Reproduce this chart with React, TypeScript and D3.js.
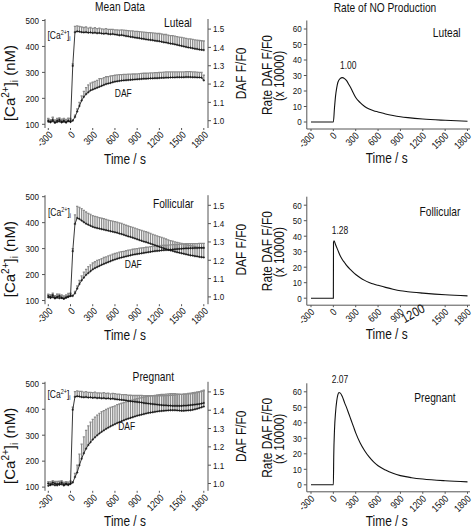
import React from "react";
import * as d3 from "d3";

// sampling grid of the mean-data traces (s)
const TIMES = d3.range(-300, 1801, 30);
const X_TICKS = [-300, 0, 300, 600, 900, 1200, 1500, 1800];
const CA_TICKS = [100, 200, 300, 400, 500];
const DAF_TICKS = [1.0, 1.1, 1.2, 1.3, 1.4, 1.5];
const RATE_TICKS = [0, 10, 20, 30, 40, 50, 60];

const lutealCa = [110,108,112,106,109,111,107,110,108,112,109,
  325,455,458,457,455,454,455,453,454,452,
  453,451,452,450,449,450,448,447,448,446,
  445,443,444,442,440,439,437,436,434,433,
  432,430,429,427,426,425,424,422,421,420,
  418,416,415,413,411,410,408,406,404,402,
  400,398,396,395,393,391,390,388,387,386];
const lutealCaErr = [12,10,14,11,13,12,10,13,11,12,14,
  8,22,21,20,20,19,20,18,19,18,
  19,18,19,18,18,19,18,19,18,18,
  19,20,20,21,22,22,23,24,24,25,
  25,26,26,27,27,28,28,29,29,30,
  30,30,31,31,31,32,32,32,32,33,
  33,33,33,34,34,34,34,35,35,35];
const lutealDaf = [1.0,0.995,1.005,0.99,1.0,1.005,0.995,1.0,0.99,1.0,0.995,
  1.0,1.02,1.05,1.08,1.11,1.13,1.145,1.155,1.165,1.17,
  1.175,1.18,1.185,1.19,1.195,1.2,1.203,1.206,1.21,1.213,
  1.215,1.217,1.219,1.22,1.221,1.222,1.223,1.224,1.225,1.226,
  1.227,1.228,1.229,1.229,1.23,1.231,1.231,1.232,1.232,1.233,
  1.234,1.234,1.235,1.235,1.236,1.236,1.236,1.237,1.237,1.237,
  1.237,1.238,1.238,1.238,1.237,1.237,1.236,1.236,1.235,1.22];
const lutealDafErr = [0.012,0.01,0.015,0.01,0.012,0.01,0.013,0.01,0.012,0.011,0.01,
  0.005,0.01,0.015,0.02,0.025,0.03,0.035,0.04,0.04,0.04,
  0.04,0.04,0.045,0.04,0.04,0.04,0.038,0.038,0.036,0.035,
  0.035,0.034,0.033,0.033,0.032,0.032,0.031,0.031,0.03,0.03,
  0.03,0.03,0.03,0.03,0.03,0.03,0.03,0.03,0.03,0.03,
  0.03,0.031,0.031,0.031,0.031,0.031,0.03,0.03,0.03,0.03,
  0.03,0.03,0.03,0.03,0.03,0.029,0.029,0.028,0.028,0.028];

const follicularCa = [112,110,113,108,111,109,110,107,112,115,118,
  290,395,418,414,408,402,396,392,388,384,
  381,379,377,375,373,371,369,367,365,363,
  361,358,356,353,350,347,345,342,339,336,
  333,330,327,325,322,319,316,313,310,307,
  304,301,298,295,293,291,288,286,284,282,
  280,278,276,274,273,271,270,268,267,266];
const follicularCaErr = [10,12,9,11,13,10,12,11,10,12,10,
  10,35,45,45,46,45,45,44,44,43,
  43,43,42,42,42,42,41,41,41,41,
  41,41,41,40,40,40,40,40,40,40,
  40,40,40,40,40,40,39,39,39,39,
  39,39,39,39,38,38,38,38,38,38,
  38,37,37,37,37,37,36,36,36,36];
const follicularDaf = [1.005,1.0,1.01,0.995,1.0,1.005,0.995,0.99,0.995,1.0,1.005,
  1.005,1.02,1.045,1.07,1.09,1.105,1.12,1.13,1.14,1.15,
  1.157,1.163,1.169,1.175,1.18,1.185,1.19,1.195,1.2,1.204,
  1.208,1.212,1.215,1.218,1.221,1.224,1.227,1.23,1.232,1.234,
  1.236,1.238,1.24,1.242,1.244,1.246,1.248,1.25,1.251,1.252,
  1.254,1.255,1.256,1.257,1.258,1.259,1.26,1.261,1.262,1.263,
  1.264,1.265,1.265,1.266,1.266,1.267,1.267,1.268,1.268,1.268];
const follicularDafErr = [0.01,0.012,0.01,0.011,0.013,0.01,0.012,0.01,0.011,0.01,0.012,
  0.005,0.01,0.015,0.02,0.025,0.03,0.03,0.035,0.035,0.035,
  0.035,0.036,0.035,0.034,0.035,0.034,0.034,0.033,0.033,0.033,
  0.032,0.032,0.032,0.031,0.031,0.031,0.03,0.03,0.03,0.03,
  0.03,0.029,0.029,0.029,0.028,0.028,0.028,0.028,0.027,0.027,
  0.027,0.027,0.026,0.026,0.026,0.026,0.026,0.025,0.025,0.025,
  0.025,0.025,0.025,0.025,0.024,0.024,0.024,0.024,0.024,0.024];

const pregnantCa = [105,108,110,107,112,109,111,106,110,108,112,
  398,448,450,449,447,446,447,445,446,444,
  445,443,444,442,443,441,442,440,441,439,
  438,437,436,435,434,432,431,430,429,428,
  427,426,424,423,422,421,420,419,418,417,
  416,415,415,414,414,413,413,413,413,413,
  414,414,415,416,417,418,419,420,422,424];
const pregnantCaErr = [10,12,9,11,10,13,10,12,11,10,12,
  10,20,21,20,22,20,21,20,19,20,
  21,20,19,20,21,20,20,19,20,21,
  20,21,20,21,22,22,23,23,24,25,
  26,27,28,29,30,31,32,33,34,35,
  36,37,38,39,40,41,42,43,44,44,
  45,45,46,46,47,47,48,48,49,50];
const pregnantDaf = [1.0,0.995,1.005,1.0,0.99,1.0,1.005,0.995,1.0,0.995,1.0,
  1.005,1.035,1.06,1.1,1.135,1.165,1.19,1.21,1.225,1.24,
  1.252,1.263,1.273,1.282,1.29,1.298,1.305,1.312,1.318,1.324,
  1.33,1.335,1.34,1.345,1.35,1.354,1.358,1.362,1.366,1.37,
  1.373,1.376,1.379,1.382,1.385,1.387,1.389,1.391,1.393,1.395,
  1.396,1.397,1.398,1.399,1.4,1.4,1.4,1.399,1.398,1.397,
  1.397,1.398,1.399,1.4,1.402,1.405,1.408,1.412,1.416,1.42];
const pregnantDafErr = [0.01,0.012,0.01,0.011,0.01,0.012,0.01,0.011,0.01,0.012,0.01,
  0.005,0.02,0.04,0.06,0.08,0.09,0.1,0.105,0.11,0.11,
  0.11,0.11,0.11,0.11,0.108,0.106,0.105,0.104,0.102,0.1,
  0.1,0.099,0.098,0.097,0.096,0.095,0.095,0.094,0.094,0.093,
  0.093,0.092,0.092,0.092,0.091,0.091,0.091,0.09,0.09,0.09,
  0.09,0.09,0.09,0.09,0.09,0.09,0.09,0.09,0.09,0.09,
  0.09,0.09,0.09,0.089,0.089,0.088,0.088,0.087,0.087,0.086];

const lutealRateT = [-300,0,15,30,45,60,90,120,150,180,210,240,270,300,360,420,480,540,600,700,800,900,1000,1200,1500,1800];
const lutealRate = [0,0,9,17,22,25.5,28,28.6,28,26.5,24,21.5,18.5,15.8,12.5,10,8.4,7.3,6.5,5.2,4.2,3.4,2.8,1.9,1.1,0.5];
const follicularRateT = [-300,0,2,10,30,60,90,120,150,180,240,300,360,420,480,540,600,700,800,900,1000,1200,1500,1800];
const follicularRate = [0,0,36,37,34.5,31,27.5,25,23,21,18,15.3,13.2,11.5,10.2,9.1,8.3,7,5.8,4.8,4.2,3.3,2.2,1.5];
const pregnantRateT = [-300,0,5,15,30,45,60,75,90,120,150,180,210,240,270,300,360,420,480,540,600,700,800,900,1050,1200,1500,1800];
const pregnantRate = [0,0,18,35,47,54,58,59.5,59.3,57,53,49.5,45.5,41.5,37.5,33.5,27,22,18,14.8,12.3,9.5,7.4,5.9,4.6,3.7,2.6,1.9];

const GROUPS = ["Luteal", "Follicular", "Pregnant"];
const PEAK_LABELS = ["1.00", "1.28", "2.07"];

const FONT = "'Liberation Sans', Arial, sans-serif";
const AX = "#555";
const TXT = "#111";
const SX = 0.85;

function Txt(p: any) {
  const { x, y, rot = 0, size, anchor = "start", sx = SX, dy, children } = p;
  return (
    <text transform={`translate(${x},${y}) rotate(${rot}) scale(${sx},1)`} fontSize={size} textAnchor={anchor} dy={dy}>
      {children}
    </text>
  );
}

function crosses(pts: [number, number][], s = 1.2) {
  return pts.map(([x, y]) => `M${x - s},${y}h${2 * s}M${x},${y - s}v${2 * s}`).join("");
}

function MeanPanel(p: any) {
  const { T, ca, caE, daf, dafE, name, nameX, nameDy, caLbl, dafLbl } = p;
  const x = d3.scaleLinear().domain([-300, 1800]).range([48.3, 203.8]);
  const yCa = d3.scaleLinear().domain([100, 500]).range([T + 103.8, T]);
  const yD = d3.scaleLinear().domain([1.0, 1.5]).range([T + 100.2, T + 8.6]);
  const axTop = T - 1.5, axBot = T + 107.5;
  const xl = 45, xr = 208;
  const caPts: [number, number][] = TIMES.map((t, i) => [x(t), yCa(ca[i])]);
  const dPts: [number, number][] = TIMES.map((t, i) => [x(t), yD(daf[i])]);
  const line = d3.line();
  const bars = (pts: [number, number][], tops: number[]) =>
    pts.map(([px, py], i) => `M${px},${py}V${tops[i]}M${px - 1.1},${tops[i]}h2.2`).join("");
  const caTops = TIMES.map((t, i) => yCa(ca[i] + caE[i]));
  const dTops = TIMES.map((t, i) => yD(daf[i] + dafE[i]));
  return (
    <g fontFamily={FONT} fill={TXT}>
      <path d={bars(caPts, caTops)} stroke="#8c8c8c" strokeWidth={1.3} fill="none" />
      <path d={bars(dPts, dTops)} stroke="#8c8c8c" strokeWidth={1.3} fill="none" />
      <path d={line(caPts) || ""} stroke="#222" strokeWidth={0.9} fill="none" />
      <path d={crosses(caPts)} stroke="#111" strokeWidth={0.7} fill="none" />
      <path d={line(dPts) || ""} stroke="#222" strokeWidth={0.9} fill="none" />
      <path d={crosses(dPts)} stroke="#111" strokeWidth={0.7} fill="none" />
      <line x1={xl} x2={xl} y1={axTop} y2={axBot} stroke={AX} />
      <line x1={xr} x2={xr} y1={axTop} y2={axBot} stroke={AX} />
      {CA_TICKS.map((v) => (
        <g key={"c" + v}>
          <line x1={xl - 3} x2={xl} y1={yCa(v)} y2={yCa(v)} stroke={AX} />
          <Txt x={xl - 6} y={yCa(v)} dy="0.35em" anchor="end" size={9.5}>{v}</Txt>
        </g>
      ))}
      {DAF_TICKS.map((v) => (
        <g key={"d" + v}>
          <line x1={xr} x2={xr + 3} y1={yD(v)} y2={yD(v)} stroke={AX} />
          <Txt x={xr + 5} y={yD(v)} dy="0.35em" size={9.5}>{v.toFixed(1)}</Txt>
        </g>
      ))}
      {X_TICKS.map((v) => (
        <g key={"x" + v}>
          <line x1={x(v)} x2={x(v)} y1={axBot} y2={axBot + 2} stroke={AX} />
          <Txt x={x(v) + 5} y={axBot + 7.5} rot={-45} anchor="end" size={10}>{v}</Txt>
        </g>
      ))}
      <text transform={`translate(14.5,${T + 62.5}) rotate(-90)`} textAnchor="middle" fontSize={15}>
        [Ca<tspan fontSize={10} dy={-6}>2+</tspan><tspan dy={6}>]</tspan><tspan fontSize={10} dy={3}>i</tspan><tspan dy={-3}> (nM)</tspan>
      </text>
      <Txt x={246} y={T + 53} rot={-90} anchor="middle" size={14}>DAF F/F0</Txt>
      <Txt x={125} y={Math.min(T + 143.5, 526)} anchor="middle" size={14}>Time / s</Txt>
      <Txt x={nameX} y={T + nameDy} anchor="middle" size={12}>{name}</Txt>
      <Txt x={caLbl[0]} y={T + caLbl[1]} size={10}>
        [Ca<tspan fontSize={6.5} dy={-4}>2+</tspan><tspan dy={4}>]</tspan><tspan fontSize={6.5} dy={2}>i</tspan>
      </Txt>
      <Txt x={dafLbl[0]} y={T + dafLbl[1]} anchor="middle" size={10}>DAF</Txt>
    </g>
  );
}

function RatePanel(p: any) {
  const { T, times, vals, name, nameX, nameDy, peak, peakX, peakDy, odd } = p;
  const x = d3.scaleLinear().domain([-300, 1800]).range([311, 467.5]);
  const y = d3.scaleLinear().domain([0, 60]).range([T + 101.5, T + 8.5]);
  const axL = 306.8, axBot = T + 108.5;
  const line = d3.line<number>().x((d, i) => x(times[i])).y((d) => y(d)).curve(d3.curveMonotoneX);
  return (
    <g fontFamily={FONT} fill={TXT}>
      <path d={line(vals) || ""} stroke="#111" strokeWidth={1.1} fill="none" />
      <line x1={axL} x2={axL} y1={T} y2={axBot} stroke={AX} />
      <line x1={axL} x2={470} y1={axBot} y2={axBot} stroke={AX} />
      {RATE_TICKS.map((v) => (
        <g key={"r" + v}>
          <line x1={axL - 3} x2={axL} y1={y(v)} y2={y(v)} stroke={AX} />
          <Txt x={axL - 5} y={y(v)} dy="0.35em" anchor="end" size={9.5}>{v}</Txt>
        </g>
      ))}
      {X_TICKS.map((v) => (
        <g key={"x" + v}>
          <line x1={x(v)} x2={x(v)} y1={axBot} y2={axBot + 2} stroke={AX} />
          {odd && v === 1200 ? (
            <Txt x={x(v) + 3} y={axBot + 6} rot={-30} anchor="end" size={13}>{v}</Txt>
          ) : (
            <Txt x={x(v) + 4} y={axBot + 7.5} rot={-45} anchor="end" size={10}>{v}</Txt>
          )}
        </g>
      ))}
      <Txt x={271.5} y={T + 54.5} rot={-90} anchor="middle" size={14}>Rate DAF F/F0</Txt>
      <Txt x={283.5} y={T + 55.5} rot={-90} anchor="middle" size={14}>(x 10000)</Txt>
      <Txt x={386.7} y={Math.min(T + 142.5, 526)} anchor="middle" size={14}>Time / s</Txt>
      <Txt x={nameX} y={T + nameDy} anchor="middle" size={12}>{name}</Txt>
      <Txt x={peakX} y={T + peakDy} anchor="middle" size={10}>{peak}</Txt>
    </g>
  );
}

export default function App() {
  const rows = [
    { T: 20.5, ca: lutealCa, caE: lutealCaErr, daf: lutealDaf, dafE: lutealDafErr, nameX: 178, nameDy: 6, caLbl: [47.5, 18], dafLbl: [123.3, 76], rt: lutealRateT, rv: lutealRate, rNameX: 446.7, rNameDy: 16.5, peakX: 348.3, peakDy: 48 },
    { T: 196.7, ca: follicularCa, caE: follicularCaErr, daf: follicularDaf, dafE: follicularDafErr, nameX: 173.3, nameDy: 11.5, caLbl: [48, 18.8], dafLbl: [133.3, 70.8], rt: follicularRateT, rv: follicularRate, rNameX: 440, rNameDy: 19.3, peakX: 340, peakDy: 36.8 },
    { T: 383.3, ca: pregnantCa, caE: pregnantCaErr, daf: pregnantDaf, dafE: pregnantDafErr, nameX: 153.3, nameDy: -2.3, caLbl: [47.5, 14.7], dafLbl: [126.7, 46.7], rt: pregnantRateT, rv: pregnantRate, rNameX: 435, rNameDy: 18.7, peakX: 340, peakDy: -0.8 },
  ];
  return (
    <svg width={472} height={528} style={{ position: "absolute", left: 0, top: 0, background: "#fff" }}>
      <rect width={472} height={528} fill="#fff" />
      <g fontFamily={FONT} fill={TXT}>
        <Txt x={120} y={10.5} anchor="middle" size={12}>Mean Data</Txt>
        <Txt x={385} y={11.5} anchor="middle" size={12}>Rate of NO Production</Txt>
      </g>
      {rows.map((r, i) => (
        <g key={i}>
          <MeanPanel T={r.T} ca={r.ca} caE={r.caE} daf={r.daf} dafE={r.dafE} name={GROUPS[i]} nameX={r.nameX} nameDy={r.nameDy} caLbl={r.caLbl} dafLbl={r.dafLbl} />
          <RatePanel T={r.T} times={r.rt} vals={r.rv} name={GROUPS[i]} nameX={r.rNameX} nameDy={r.rNameDy} peak={PEAK_LABELS[i]} peakX={r.peakX} peakDy={r.peakDy} odd={i === 1} />
        </g>
      ))}
    </svg>
  );
}
